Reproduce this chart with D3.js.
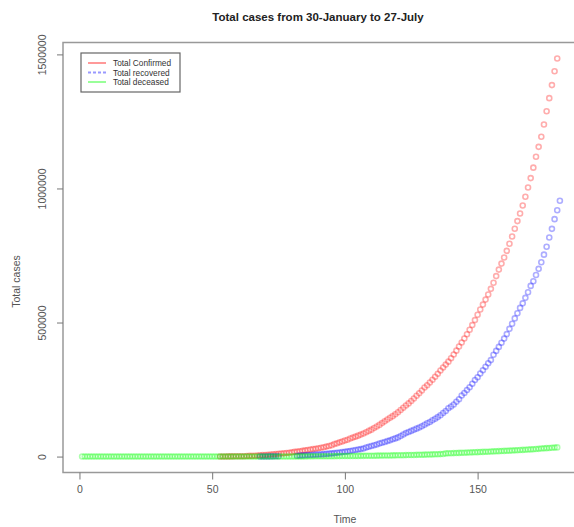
<!DOCTYPE html>
<html>
<head>
<meta charset="utf-8">
<script src="https://cdn.jsdelivr.net/npm/d3@7"></script>
<style>
  body { margin: 0; background: #fff; }
  svg { font-family: "Liberation Sans", Arial, sans-serif; }
</style>
</head>
<body>
<svg id="chart" width="574" height="527"></svg>
<script>
// Cumulative totals, one value per day (day 1 = 30-January, day 180 = 27-July)
const confirmedStart = 53;
const confirmed = [
    396, 499, 536, 657, 727, 887, 987, 1024, 1251, 1397,
    1998, 2543, 2567, 3082, 3588, 4778, 5311, 5916, 6725, 7598, 8446, 9205, 10453, 11487, 12322,
    13430, 14352, 15722, 17615, 18539, 20080, 21370, 23077, 24530, 26283, 27890, 29451, 31324, 33062, 34863,
    37257, 39699, 42505, 46437, 49400, 52987, 56351, 59695, 62808, 67161, 70768, 74292, 78055, 81997, 85784,
    90648, 95698, 100328, 106475, 112028, 118226, 124794, 131423, 138536, 144950, 150793, 158086, 165386,
    173491, 181827, 190609,
    198370, 207191, 216824, 226713, 236184, 246622, 257486, 265928, 276146, 286605, 297535, 308993, 320922,
    332424, 343091, 354065, 366946, 380532, 395048, 410451, 425282, 440215, 456183, 473105, 490401, 508953,
    528859, 548318, 566840, 585481,
    604641, 625544, 648315, 673165, 697413, 719665, 742417, 767296, 793802, 820916, 849553, 878254, 906752,
    936181, 968876, 1003832, 1038716, 1077618, 1118043, 1155191, 1193078, 1238635, 1287945, 1336861, 1385522,
    1437000, 1485000
];

// null = no record for that day
const recoveredStart = 68;
const recovered = [
    375, 411, 473, 565, 640, 816, 969, 1190,
    null, null, null, null, null, null,
    3260, 3975, 4370, 5012, 5498, 5939, 6523, 7137, 7747, 8324, 9064,
    10007, 10887, 11775, 12847, 14142, 15331, 16776, 17887, 19358, 20917, 22455, 24386, 26235, 27969, 30258,
    34109, 36824, 39174, 42298, 45300, 48534, 51784, 54441, 57721, 60491, 64426, 67692, 71500, 76800, 82600,
    87500, 91819,
    95754, 100285, 104107, 108450, 113233, 118695, 124430, 129215, 135206, 141029, 147195, 154330, 162379,
    169798, 180013, 186935, 194325, 204711, 213831, 227756, 237196, 248190, 258685, 271697, 285637, 295881,
    309713, 321723, 334822, 347912,
    359860, 379892, 394227, 409083, 424433, 439948, 456831, 476378, 495513, 515386, 534621, 554429, 571460,
    592032, 612815, 636602, 653751, 677423, 700087, 724578, 753050, 782607, 817209, 849432, 885573, 919000, 954000
];

const deceasedStart = 1;
const deceased = [
    0, 0, 0, 0, 0, 0, 0, 0, 0, 0, 0, 0, 0, 0, 0, 0, 0, 0, 0, 0, 0,
    0, 0, 0, 0, 0, 0, 0, 0, 0, 0, 0, 0, 0, 0, 0, 0, 0, 0, 0, 0, 0,
    1, 2, 2, 2, 2, 3, 3, 4, 5, 5,
    7, 10, 10, 12, 20, 20, 24, 27, 32, 35,
    58, 72, 72, 86, 99, 136, 150, 178, 226, 246, 288, 331, 358, 393, 405,
    448, 486, 521, 559, 592, 645, 681, 721, 780, 825, 881, 939, 1008, 1079, 1154,
    1223, 1323, 1391, 1566, 1693, 1785, 1889, 1985, 2101, 2212, 2294, 2415, 2551, 2649, 2753,
    2871, 3025, 3156, 3302, 3434, 3584, 3726, 3868, 4024, 4172, 4344, 4534, 4711, 4980, 5185, 5408,
    5608, 5829, 6088, 6363, 6649, 6946, 7207, 7473, 7750, 8102, 8498, 8884, 9195, 9520, 11903,
    12237, 12573, 12948, 13254, 13699, 14011, 14476, 14894, 15301, 15685, 16095, 16475, 16893, 17400, 17834,
    18213, 18655, 19268, 19693, 20160, 20642, 21129, 21604, 22123, 22674, 23174, 23727, 24309, 24914,
    25602, 26273, 26816, 27497, 28084, 28732, 29861, 30601, 31358, 32063, 32771, 33408, 34193
];

const xTicks = [0, 50, 100, 150];
const yTicks = [0, 500000, 1000000, 1500000];
const legendLabels = ["Total Confirmed", "Total recovered", "Total deceased"];

/**
 * Turns a start day and a list of values into {day, value} points.
 */
function toPoints(start, values) {
    return values
        .map((v, i) => ({day: start + i, value: v}))
        .filter(d => d.value !== null);
}

const series = [
    {name: legendLabels[0], color: "rgb(255,0,0)", dash: null, points: toPoints(confirmedStart, confirmed)},
    {name: legendLabels[1], color: "rgb(0,0,255)", dash: "3,2", points: toPoints(recoveredStart, recovered)},
    {name: legendLabels[2], color: "rgb(0,255,0)", dash: null, points: toPoints(deceasedStart, deceased)}
];

const svg = d3.select("#chart");
const plot = {left: 63, right: 579, top: 42.5, bottom: 472.5};

// R-style axis ranges: data extent widened by 4% on each side
function rRange(values) {
    const [lo, hi] = d3.extent(values);
    const pad = (hi - lo) * 0.04;
    return [lo - pad, hi + pad];
}
const allPoints = series.flatMap(s => s.points);
const x = d3.scaleLinear().domain(rRange(allPoints.map(d => d.day))).range([plot.left, plot.right]);
const y = d3.scaleLinear().domain(rRange(allPoints.map(d => d.value))).range([plot.bottom, plot.top]);

// Points: confirmed first, deceased on top
series.forEach(s => {
    svg.append("g")
        .selectAll("circle")
        .data(s.points)
        .join("circle")
        .attr("cx", d => x(d.day))
        .attr("cy", d => y(d.value))
        .attr("r", 2.5)
        .attr("fill", "none")
        .attr("stroke", s.color)
        .attr("stroke-opacity", 0.32)
        .attr("stroke-width", 1.6);
});

// Box round the plot region
svg.append("rect")
    .attr("x", plot.left).attr("y", plot.top)
    .attr("width", plot.right - plot.left).attr("height", plot.bottom - plot.top)
    .attr("fill", "none").attr("stroke", "#999").attr("stroke-width", 1.5);

// X axis
const xAxis = svg.append("g")
    .attr("transform", `translate(0,${plot.bottom})`)
    .call(d3.axisBottom(x).tickValues(xTicks).tickSize(7).tickPadding(6));
xAxis.select(".domain").remove();
xAxis.selectAll("line").attr("stroke", "#777");
xAxis.selectAll("text").attr("font-size", 10.5).attr("fill", "#555")
    .attr("font-family", "Liberation Sans, Arial, sans-serif");

// Y axis, labels turned like in R
const yAxis = svg.append("g")
    .attr("transform", `translate(${plot.left},0)`)
    .call(d3.axisLeft(y).tickValues(yTicks).tickSize(6).tickFormat(d3.format("d")));
yAxis.select(".domain").remove();
yAxis.selectAll("line").attr("stroke", "#777");
yAxis.selectAll("text")
    .attr("x", null).attr("dy", null)
    .attr("transform", "translate(-17,0) rotate(-90)")
    .attr("text-anchor", "middle")
    .attr("font-size", 10.5).attr("fill", "#555")
    .attr("font-family", "Liberation Sans, Arial, sans-serif");

// Titles
svg.append("text")
    .attr("x", (plot.left + plot.right - 6) / 2).attr("y", 21)
    .attr("text-anchor", "middle")
    .attr("font-size", 11.5).attr("font-weight", "bold").attr("fill", "#222")
    .text("Total cases from 30-January to 27-July");

svg.append("text")
    .attr("x", x(100)).attr("y", 523)
    .attr("text-anchor", "middle")
    .attr("font-size", 10.5).attr("fill", "#555")
    .text("Time");

svg.append("text")
    .attr("transform", `translate(20,${(plot.top + plot.bottom) / 2 + 24}) rotate(-90)`)
    .attr("text-anchor", "middle")
    .attr("font-size", 10.5).attr("fill", "#555")
    .text("Total cases");

// Legend
const legend = svg.append("g").attr("transform", "translate(81,53)");
legend.append("rect")
    .attr("width", 99).attr("height", 39)
    .attr("fill", "#fff").attr("stroke", "#666").attr("stroke-width", 1.2);
series.forEach((s, i) => {
    const ly = 10 + i * 9.5;
    legend.append("line")
        .attr("x1", 7).attr("x2", 25).attr("y1", ly).attr("y2", ly)
        .attr("stroke", s.color).attr("stroke-opacity", 0.4).attr("stroke-width", 2)
        .attr("stroke-dasharray", s.dash);
    legend.append("text")
        .attr("x", 32).attr("y", ly + 3)
        .attr("font-size", 8.3).attr("fill", "#333")
        .text(s.name);
});
</script>
</body>
</html>
